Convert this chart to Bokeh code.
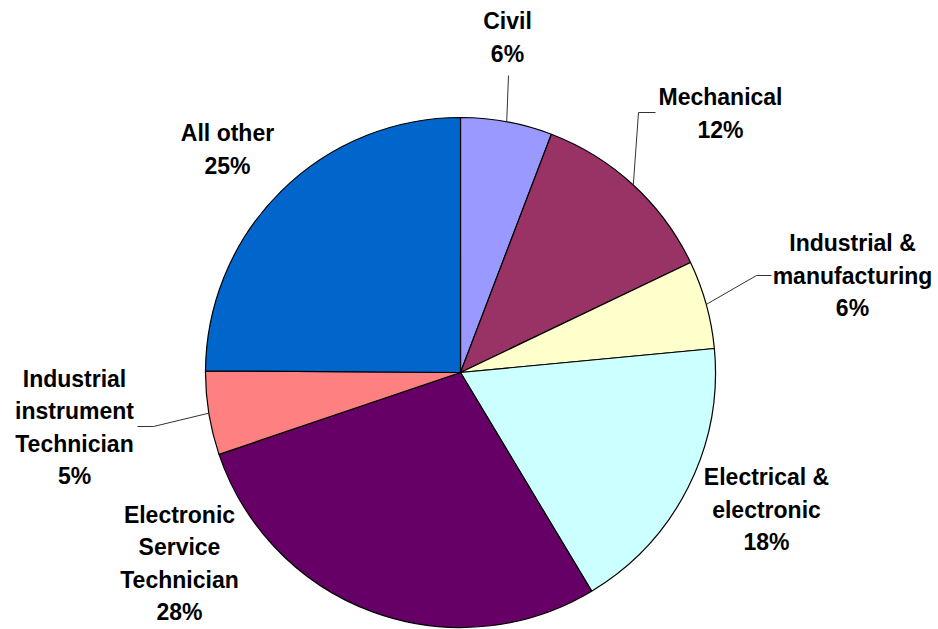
import math
from bokeh.plotting import figure
from bokeh.models import Range1d, ColumnDataSource
from bokeh.core.properties import value
from bokeh.embed import file_html
from bokeh.resources import INLINE

# ---- data ----
categories = ["Civil", "Mechanical", "Industrial &\nmanufacturing", "Electrical &\nelectronic",
              "Electronic\nService\nTechnician", "Industrial\ninstrument\nTechnician", "All other"]
shares = [5.8, 12.1, 5.6, 17.9, 28.4, 5.3, 24.9]
colors = ["#9999FF", "#993366", "#FFFFCC", "#CCFFFF", "#660066", "#FF8080", "#0066CC"]

# ---- layout (screen pixel positions of labels and leader elbows) ----
W, H = 938, 629
def sy(y):
    return H - y

CX, CY, R = 460, sy(372), 255
label_pos = [(507, 37), (720, 113), (852, 275), (766, 509), (179, 563), (74, 427), (227, 149)]
leaders = {0: [(508, 75)], 1: [(638, 112), (655, 112)], 2: [(756, 275), (771, 275)],
           5: [(153, 426), (137, 426)]}

p = figure(width=W, height=H, x_range=Range1d(0, W), y_range=Range1d(0, H),
           x_axis_type=None, y_axis_type=None, toolbar_location=None,
           output_backend="svg", min_border=0, outline_line_color=None)
p.grid.visible = False
p.background_fill_color = "white"

total = sum(shares)
cum = 0.0
starts, ends, mids = [], [], []
for v in shares:
    c0 = cum / total
    cum += v
    c1 = cum / total
    starts.append(math.pi / 2 - 2 * math.pi * c1)
    ends.append(math.pi / 2 - 2 * math.pi * c0)
    mids.append(math.pi / 2 - 2 * math.pi * (c0 + c1) / 2)

src = ColumnDataSource(dict(start=starts, end=ends, color=colors))
p.wedge(x=CX, y=CY, radius=R, start_angle="start", end_angle="end", fill_color="color",
        line_color="black", line_width=1.2, source=src)

# leader lines
for i, pts in leaders.items():
    a = mids[i]
    xs = [CX + R * math.cos(a)] + [q[0] for q in pts]
    ys = [CY + R * math.sin(a)] + [sy(q[1]) for q in pts]
    p.line(xs, ys, line_color="#333333", line_width=1)

# labels
texts = [f"{c}\n{round(v)}%" for c, v in zip(categories, shares)]
lx = [q[0] for q in label_pos]
ly = [sy(q[1]) for q in label_pos]
p.text(x=lx, y=ly, text=texts, text_align="center", text_baseline="middle",
       text_font=value("Liberation Sans"), text_font_style="bold",
       text_font_size="23px", text_line_height=1.25, text_color="black")

open("out.html", "w").write(file_html(p, INLINE))
